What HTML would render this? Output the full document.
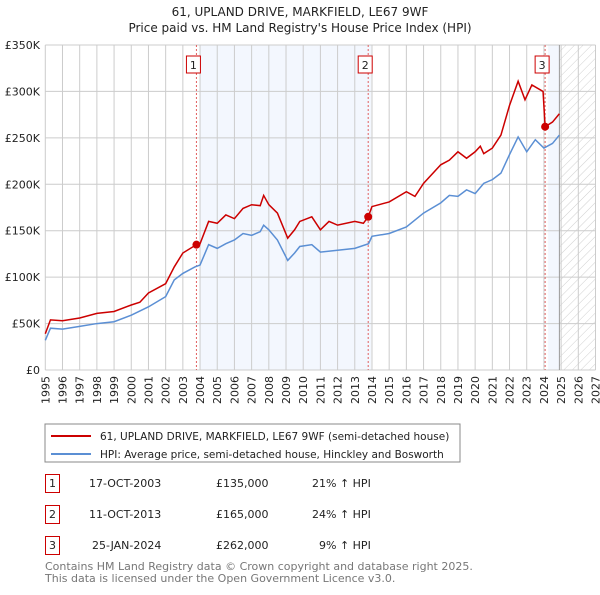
<!DOCTYPE html>
<html><head><meta charset="utf-8"><style>
body{margin:0;background:#fff;font-family:"Liberation Sans","DejaVu Sans",sans-serif;}
svg text{font-family:"DejaVu Sans","Liberation Sans",sans-serif;}
</style></head><body>
<svg id="c" width="600" height="590" xmlns="http://www.w3.org/2000/svg">
<defs><pattern id="hatch" width="6" height="6" patternUnits="userSpaceOnUse" patternTransform="rotate(45)"><line x1="0" y1="0" x2="0" y2="6" stroke="#d0d0d0" stroke-width="1"/></pattern></defs>
<text x="300" y="16" text-anchor="middle" font-size="12" fill="#222">61, UPLAND DRIVE, MARKFIELD, LE67 9WF</text>
<text x="300" y="32" text-anchor="middle" font-size="12" fill="#222">Price paid vs. HM Land Registry's House Price Index (HPI)</text>
<g id="plot"></g>
<rect x="45" y="424" width="415" height="38" fill="#fff" stroke="#888"/>
<line x1="51" y1="436" x2="91" y2="436" stroke="#cc0000" stroke-width="2"/>
<text x="100" y="440" font-size="10.5" fill="#222">61, UPLAND DRIVE, MARKFIELD, LE67 9WF (semi-detached house)</text>
<line x1="51" y1="454" x2="91" y2="454" stroke="#5b8fd4" stroke-width="2"/>
<text x="100" y="458" font-size="10.5" fill="#222">HPI: Average price, semi-detached house, Hinckley and Bosworth</text>
<g font-size="11" fill="#222">
<rect x="45.5" y="474.5" width="14" height="18" fill="none" stroke="#cc0000"/><text x="49" y="487">1</text>
<text x="89" y="487">17-OCT-2003</text><text x="216" y="487">£135,000</text><text x="312" y="487">21% ↑ HPI</text>
<rect x="45.5" y="505.5" width="14" height="18" fill="none" stroke="#cc0000"/><text x="49" y="518">2</text>
<text x="89" y="518">11-OCT-2013</text><text x="216" y="518">£165,000</text><text x="312" y="518">24% ↑ HPI</text>
<rect x="45.5" y="536.5" width="14" height="18" fill="none" stroke="#cc0000"/><text x="49" y="549">3</text>
<text x="92" y="549">25-JAN-2024</text><text x="216" y="549">£262,000</text><text x="319" y="549">9% ↑ HPI</text>
</g>
<text x="45" y="570" font-size="11" fill="#777">Contains HM Land Registry data © Crown copyright and database right 2025.</text>
<text x="45" y="582" font-size="11" fill="#777">This data is licensed under the Open Government Licence v3.0.</text>
</svg>
<script>
const yTicks=[0,50000,100000,150000,200000,250000,300000,350000];
const yTickLabels=["£0","£50K","£100K","£150K","£200K","£250K","£300K","£350K"];
const years=[1995,1996,1997,1998,1999,2000,2001,2002,2003,2004,2005,2006,2007,2008,2009,2010,2011,2012,2013,2014,2015,2016,2017,2018,2019,2020,2021,2022,2023,2024,2025,2026,2027];
const hpiT=[1995.0,1995.3,1996,1997,1998,1999,2000,2001,2002,2002.5,2003,2003.7,2004,2004.5,2005,2005.5,2006,2006.5,2007,2007.5,2007.7,2008,2008.5,2009.1,2009.5,2009.8,2010.5,2011,2012,2013,2013.8,2014,2015,2016,2017,2018,2018.5,2019,2019.5,2020,2020.5,2021,2021.5,2022,2022.5,2023,2023.5,2024,2024.5,2024.9];
const hpiV=[32,45,44,47,50,52,59,68,79,97,104,111,113,135,131,136,140,147,145,149,156,151,140,118,126,133,135,127,129,131,136,144,147,154,169,180,188,187,194,190,201,205,212,232,251,235,248,239,244,253];
const priceT=[1995.0,1995.3,1996,1997,1998,1999,2000,2000.5,2001,2002,2002.5,2003,2003.79,2004,2004.5,2005,2005.5,2006,2006.5,2007,2007.5,2007.7,2008,2008.5,2009.1,2009.5,2009.8,2010.5,2011,2011.5,2012,2013,2013.5,2013.78,2014,2015,2016,2016.5,2017,2018,2018.5,2019,2019.5,2020,2020.3,2020.5,2021,2021.5,2022,2022.5,2022.9,2023.3,2023.95,2024.07,2024.5,2024.9];
const priceV=[39,54,53,56,61,63,70,73,83,93,111,126,135,136,160,158,167,163,174,178,177,188,178,169,142,151,160,165,151,160,156,160,158,165,176,181,192,187,201,221,226,235,228,235,241,233,239,253,285,311,291,307,300,262,267,276];
const saleT=[2003.79,2013.78,2024.07];
const saleV=[135000,165000,262000];
const saleLabels=["1","2","3"];
const X0=45.3,X1=595.5,Y0=370,Y1=45;
const x=t=>X0+(t-1995)/32*(X1-X0);
const y=v=>Y0-v/350000*(Y0-Y1);
const NS="http://www.w3.org/2000/svg";
const g=document.getElementById('plot');
function mk(tag,attrs){const e=document.createElementNS(NS,tag);for(const k in attrs)e.setAttribute(k,attrs[k]);g.appendChild(e);return e;}
let e;
e=mk('rect',{x:x(saleT[0])+3,y:Y1,width:x(saleT[1])-x(saleT[0]),height:Y0-Y1,fill:'#f3f7fe'});


e=mk('rect',{x:x(saleT[2])+3,y:Y1,width:x(2024.9)-x(saleT[2])-3,height:Y0-Y1,fill:'#f3f7fe'});


e=mk('rect',{x:x(2024.9),y:Y1,width:X1-x(2024.9),height:Y0-Y1,fill:'url(#hatch)'});


years.forEach(yr=>{
 e=mk('line',{x1:x(yr),x2:x(yr),y1:Y1,y2:Y0,stroke:'#ccc','stroke-width':1});
 
 
 e=mk('text',{x:0,y:0,'font-size':11,fill:'#222','text-anchor':'end',transform:`translate(${x(yr)+4},${Y0+6}) rotate(-90)`});
 e.textContent=yr;
 
 
});
yTicks.forEach((v,i)=>{
 e=mk('line',{x1:X0,x2:X1,y1:y(v),y2:y(v),stroke:'#ccc','stroke-width':1});
 
 
 e=mk('text',{x:40,y:y(v)+4,'font-size':11,fill:'#222','text-anchor':'end'});
 e.textContent=yTickLabels[i];
 
 
});
e=mk('line',{x1:x(2024.9),x2:x(2024.9),y1:Y1,y2:Y0,stroke:'#999','stroke-width':1});


saleT.forEach((t,i)=>{
 e=mk('line',{x1:x(t),x2:x(t),y1:Y1,y2:Y0,stroke:'#e06060','stroke-width':1,'stroke-dasharray':'2,2'});
 
 
 e=mk('rect',{x:x(t)-10,y:56,width:14,height:17,fill:'#fff',stroke:'#cc0000'});
 
 
 e=mk('text',{x:x(t)-3,y:69,'font-size':11,fill:'#222','text-anchor':'middle'});
 e.textContent=saleLabels[i];
 
 
});
e=mk('polyline',{points:hpiT.map((t,i)=>x(t)+','+y(hpiV[i]*1000)).join(' '),fill:'none',stroke:'#5b8fd4','stroke-width':1.5});


e=mk('polyline',{points:priceT.map((t,i)=>x(t)+','+y(priceV[i]*1000)).join(' '),fill:'none',stroke:'#cc0000','stroke-width':1.5});


saleT.forEach((t,i)=>{
 e=mk('circle',{cx:x(t),cy:y(saleV[i]),r:4,fill:'#cc0000'});
 
 
});
</script>
</body></html>
